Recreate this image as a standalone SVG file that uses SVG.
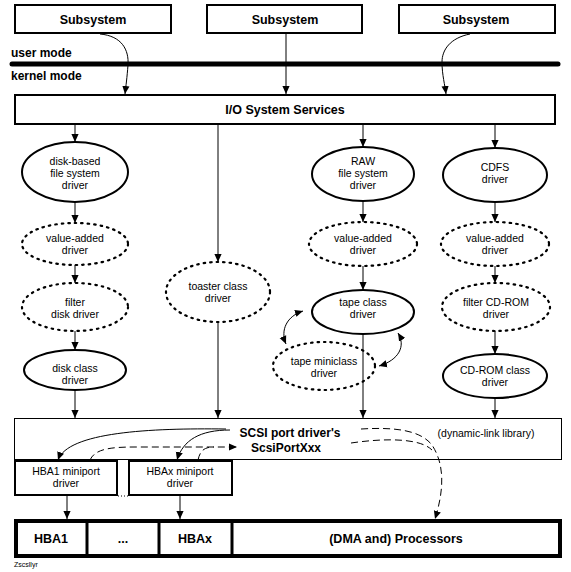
<svg xmlns="http://www.w3.org/2000/svg" width="571" height="572" viewBox="0 0 571 572">
<style>
.box{fill:#fff;stroke:#000;stroke-width:2}
.thin{fill:#fff;stroke:#000;stroke-width:1}
.sol{fill:#fff;stroke:#000;stroke-width:2}
.dot{fill:#fff;stroke:#000;stroke-width:2.2;stroke-dasharray:1.5 5;stroke-linecap:round}
.b{font-family:"Liberation Sans",Arial,sans-serif;font-weight:bold;font-size:12.5px;text-anchor:middle}
.bl{font-family:"Liberation Sans",Arial,sans-serif;font-weight:bold;font-size:12px}
.t{font-family:"Liberation Sans",Arial,sans-serif;font-size:10.5px;text-anchor:middle}
.c{fill:none;stroke:#000;stroke-width:1}
.d{fill:none;stroke:#000;stroke-width:1;stroke-dasharray:7 4}
</style>
<defs>
<marker id="a" viewBox="0 0 10 10" refX="10" refY="5" markerWidth="8" markerHeight="8" markerUnits="userSpaceOnUse" orient="auto-start-reverse">
<path d="M0,0.5 L10,5 L0,9.5 z" fill="#000"/>
</marker>
</defs>
<rect width="571" height="572" fill="#fff"/>

<g id="sub1"><rect class="box" x="15" y="5" width="156" height="28"/><text class="b" x="93" y="24">Subsystem</text></g>
<g id="sub2"><rect class="box" x="207" y="5" width="155" height="28"/><text class="b" x="285" y="24">Subsystem</text></g>
<g id="sub3"><rect class="box" x="399" y="5" width="156" height="28"/><text class="b" x="476" y="24">Subsystem</text></g>

<g id="modes">
<text class="bl" x="11" y="57">user mode</text>
<line x1="12" y1="64" x2="558" y2="64" stroke="#000" stroke-width="5" stroke-linecap="round"/>
<text class="bl" x="11" y="80">kernel mode</text>
</g>

<g id="io"><rect class="box" x="15" y="95" width="540" height="29"/><text class="b" x="285" y="114">I/O System Services</text></g>

<g id="diskfs"><ellipse class="sol" cx="75" cy="172" rx="53" ry="30"/><text class="t" x="75" y="165">disk-based</text><text class="t" x="75" y="177">file system</text><text class="t" x="75" y="189">driver</text></g>
<g id="va1"><ellipse class="dot" cx="75" cy="244" rx="53" ry="21"/><text class="t" x="75" y="242">value-added</text><text class="t" x="75" y="254">driver</text></g>
<g id="filterdisk"><ellipse class="dot" cx="75" cy="307" rx="53" ry="24"/><text class="t" x="75" y="306">filter</text><text class="t" x="75" y="318">disk driver</text></g>
<g id="diskclass"><ellipse class="sol" cx="75" cy="370" rx="51" ry="20"/><text class="t" x="75" y="372">disk class</text><text class="t" x="75" y="384">driver</text></g>

<g id="toaster"><ellipse class="dot" cx="218" cy="292" rx="52" ry="30"/><text class="t" x="218" y="290">toaster class</text><text class="t" x="218" y="302">driver</text></g>

<g id="rawfs"><ellipse class="sol" cx="363" cy="174" rx="51" ry="27"/><text class="t" x="363" y="165">RAW</text><text class="t" x="363" y="177">file system</text><text class="t" x="363" y="189">driver</text></g>
<g id="va2"><ellipse class="dot" cx="363" cy="244" rx="54" ry="22"/><text class="t" x="363" y="242">value-added</text><text class="t" x="363" y="254">driver</text></g>
<g id="tapeclass"><ellipse class="sol" cx="363" cy="312" rx="51" ry="22"/><text class="t" x="363" y="306">tape class</text><text class="t" x="363" y="318">driver</text></g>
<g id="tapemini"><ellipse class="dot" cx="324" cy="366" rx="51" ry="24"/><text class="t" x="324" y="365">tape miniclass</text><text class="t" x="324" y="377">driver</text></g>

<g id="cdfs"><ellipse class="sol" cx="495" cy="175" rx="52" ry="27"/><text class="t" x="495" y="171">CDFS</text><text class="t" x="495" y="183">driver</text></g>
<g id="va3"><ellipse class="dot" cx="495" cy="244" rx="54" ry="22"/><text class="t" x="495" y="242">value-added</text><text class="t" x="495" y="254">driver</text></g>
<g id="filtercd"><ellipse class="dot" cx="496" cy="307" rx="54" ry="24"/><text class="t" x="496" y="306">filter CD-ROM</text><text class="t" x="496" y="318">driver</text></g>
<g id="cdclass"><ellipse class="sol" cx="495" cy="376" rx="52" ry="22"/><text class="t" x="495" y="374">CD-ROM class</text><text class="t" x="495" y="386">driver</text></g>

<g id="scsi"><rect class="thin" x="14.5" y="418.5" width="547" height="41"/>
<text class="bl" x="290" y="437" text-anchor="middle">SCSI port driver's</text>
<text class="bl" x="286" y="452" text-anchor="middle">ScsiPortXxx</text>
<text class="t" x="486" y="437">(dynamic-link library)</text></g>

<g id="hba1mp"><rect class="box" x="15" y="461" width="102" height="34"/><text class="t" x="66" y="475">HBA1 miniport</text><text class="t" x="66" y="487">driver</text></g>
<g id="hbaxmp"><rect class="box" x="129" y="461" width="103" height="34"/><text class="t" x="180" y="475">HBAx miniport</text><text class="t" x="180" y="487">driver</text></g>
<line x1="118" y1="496" x2="128" y2="496" stroke="#000" stroke-width="1" stroke-dasharray="1 2"/>

<g id="hw">
<rect x="16" y="521" width="544" height="35" fill="#fff" stroke="#000" stroke-width="4"/>
<line x1="87" y1="521" x2="87" y2="556" stroke="#000" stroke-width="3"/>
<line x1="159" y1="521" x2="159" y2="556" stroke="#000" stroke-width="3"/>
<line x1="232" y1="521" x2="232" y2="556" stroke="#000" stroke-width="3"/>
<text class="b" x="51" y="543">HBA1</text>
<text class="b" x="123" y="543">...</text>
<text class="b" x="195" y="543">HBAx</text>
<text class="b" x="396" y="543">(DMA and) Processors</text>
</g>

<text x="14" y="567" font-family="'Liberation Sans',Arial,sans-serif" font-size="7px">Zscsllyr</text>

<g id="connectors" marker-end="url(#a)">
<path class="c" d="M100,34 C122,36 129,50 128,65 C127,78 126,85 125,94"/>
<path class="c" d="M286,33 L286,94"/>
<path class="c" d="M470,34 C450,38 442,50 442,62 C442,75 445,85 446,94"/>
<path class="c" d="M75,124 L75,142"/>
<path class="c" d="M218,124 L218,262"/>
<path class="c" d="M363,124 L363,147"/>
<path class="c" d="M495,124 L495,148"/>
<path class="c" d="M75,202 L75,223"/>
<path class="c" d="M75,265 L75,283"/>
<path class="c" d="M75,331 L75,350"/>
<path class="c" d="M75,390 L75,418"/>
<path class="c" d="M218,322 L218,418"/>
<path class="c" d="M363,201 L363,222"/>
<path class="c" d="M363,266 L363,290"/>
<path class="c" d="M363,334 L363,418"/>
<path class="c" d="M495,202 L495,222"/>
<path class="c" d="M495,266 L495,283"/>
<path class="c" d="M495,331 L495,354"/>
<path class="c" d="M495,398 L495,418"/>
<path class="c" d="M67,495 L67,519"/>
<path class="c" d="M180,495 L180,519"/>
<path class="c" d="M286,344 C280,330 287,316 303,311" marker-start="url(#a)"/>
<path class="c" d="M398,333 C406,346 399,360 379,366" marker-start="url(#a)"/>
<path class="c" d="M226,429 C150,428 68,432 58,460"/>
<path class="c" d="M230,430 C200,430 183,440 177,460"/>
<path class="d" d="M90,460 C95,449 110,447 135,447 L237,447"/>
<path class="d" d="M198,460 C200,451 204,447 214,447" marker-end="none"/>
<path class="d" d="M361,429 C395,427 420,430 432,445 C445,465 444,490 435,519"/>
<path class="d" d="M351,443 C385,438 420,438 432,450" marker-end="none"/>
</g>
</svg>
